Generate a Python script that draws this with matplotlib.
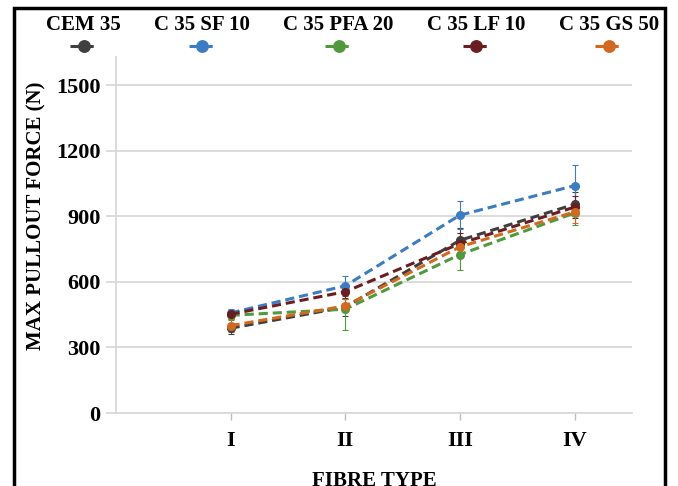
import numpy as np
import matplotlib.pyplot as plt
from matplotlib.patches import Rectangle
from matplotlib.offsetbox import VPacker

plt.rcParams["font.family"] = ["Liberation Serif", "DejaVu Serif"]
plt.rcParams["font.weight"] = "bold"

# fibre types on the x axis
fibre_types = ["I", "II", "III", "IV"]
mixes = ["CEM 35", "C 35 SF 10", "C 35 PFA 20", "C 35 LF 10", "C 35 GS 50"]

# max pullout force (N) per mix
cem35 = [388, 485, 790, 955]
sf10 = [458, 582, 905, 1040]
pfa20 = [447, 475, 725, 915]
lf10 = [452, 555, 775, 942]
gs50 = [400, 490, 760, 920]

# error bars (N)
cem35_err = [25, 40, 55, 55]
sf10_err = [20, 45, 65, 95]
pfa20_err = [20, 95, 70, 55]
lf10_err = [20, 35, 50, 50]
gs50_err = [30, 30, 45, 50]

series = [cem35, sf10, pfa20, lf10, gs50]
errors = [cem35_err, sf10_err, pfa20_err, lf10_err, gs50_err]
colors = ["#3f3f3f", "#3a7dc4", "#4f9a3a", "#6b1e22", "#d2691e"]

fig = plt.figure(figsize=(6.78, 4.86), dpi=100)
ax = fig.add_axes([0.171, 0.150, 0.761, 0.810])

x = np.arange(1, len(fibre_types) + 1)
lines = []
for vals, err, c, name in zip(series, errors, colors, mixes):
    eb = ax.errorbar(x, vals, yerr=err, color=c, ecolor=c, elinewidth=0.8,
                     capsize=2, capthick=0.8, linestyle=(0, (3, 1.6)), linewidth=2.2,
                     marker="o", markersize=5.5, label=name, zorder=3)
    lines.append(eb[0])

ax.set_xlim(0, 4.5)
ax.set_ylim(0, 1800)
ax.set_yticks([0, 300, 600, 900, 1200, 1500])
ax.set_xticks(x)
ax.set_xticklabels(fibre_types)
ax.grid(axis="y", color="#d9d9d9", linewidth=1.3)
ax.set_axisbelow(True)
ax.tick_params(axis="y", length=7, color="#d9d9d9", width=1.3, labelsize=16, pad=4)
ax.tick_params(axis="x", length=5, color="#bfbfbf", width=1, labelsize=16, pad=8)
for s in ["top", "right"]:
    ax.spines[s].set_visible(False)
ax.spines["left"].set_color("#d9d9d9")
ax.spines["left"].set_linewidth(1.3)
ax.spines["bottom"].set_color("#d9d9d9")
ax.spines["bottom"].set_linewidth(1.3)

ax.set_ylabel("MAX PULLOUT FORCE (N)", fontsize=15, fontweight="bold")
ax.set_xlabel("FIBRE TYPE", fontsize=15, fontweight="bold", labelpad=14)
ax.yaxis.set_label_coords(-0.135, 0.5)

leg = fig.legend(lines, mixes, loc="upper center", bbox_to_anchor=(0.52, 0.996), ncol=5,
                 frameon=True, fontsize=15, handlelength=1.3, markerscale=1.5,
                 columnspacing=1.6, borderpad=0.15)
leg.get_frame().set_facecolor("white")
leg.get_frame().set_edgecolor("none")
leg.get_frame().set_alpha(1)
# put each label above its marker, like the original
for col in leg._legend_handle_box.get_children():
    kids = col.get_children()
    for i, item in enumerate(kids):
        h, t = item.get_children()
        kids[i] = VPacker(pad=0, sep=2, align="center", children=[t, h])
        kids[i].set_figure(fig)

fig.patches.append(Rectangle((0.0206, -0.05), 0.960, 1.034, transform=fig.transFigure,
                             fill=False, edgecolor="black", linewidth=2.5))

fig.savefig("out.png", dpi=100)
